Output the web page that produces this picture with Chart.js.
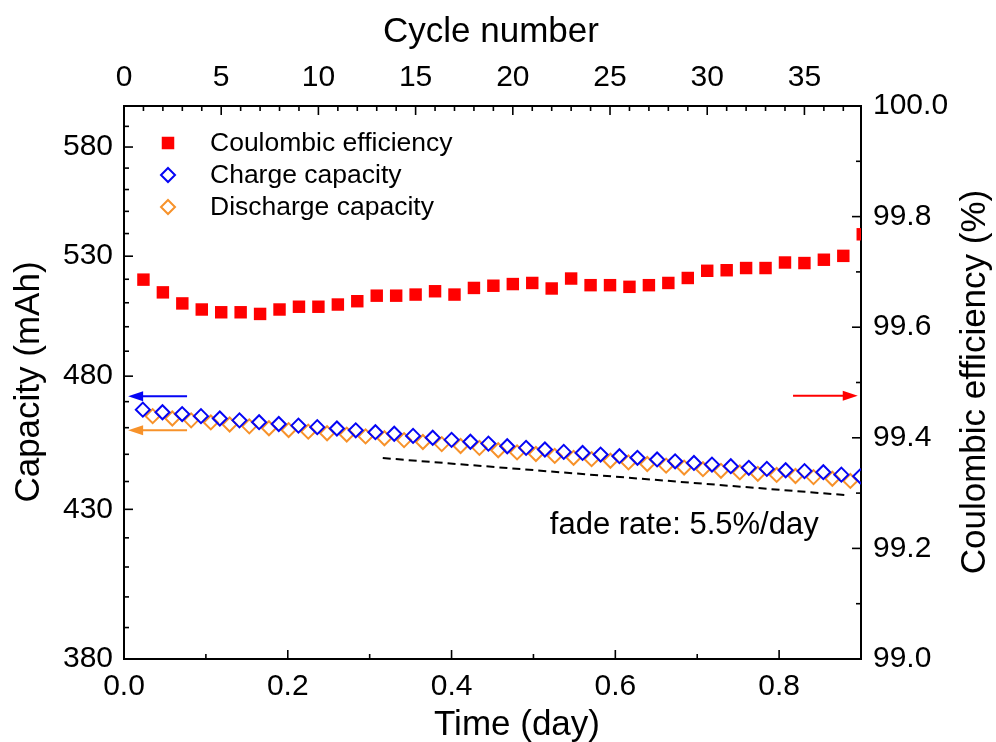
<!DOCTYPE html>
<html><head><meta charset="utf-8">
<script src="https://cdn.jsdelivr.net/npm/chart.js@4.4.0/dist/chart.umd.min.js"></script>
<style>html,body{margin:0;padding:0;background:#fff;}canvas{display:block;}</style>
</head><body>
<canvas id="c" width="996" height="742"></canvas>
<script>
// ---------- data ----------
const cycles = [1,2,3,4,5,6,7,8,9,10,11,12,13,14,15,16,17,18,19,20,21,22,23,24,25,26,27,28,29,30,31,32,33,34,35,36,37,38];
const coulombicEfficiency = [99.686,99.663,99.643,99.632,99.627,99.627,99.624,99.632,99.637,99.637,99.641,99.647,99.657,99.657,99.659,99.665,99.659,99.671,99.675,99.678,99.680,99.670,99.688,99.676,99.676,99.673,99.676,99.680,99.689,99.702,99.703,99.707,99.707,99.717,99.716,99.722,99.729,99.768];
const chargeTime = [0.023,0.047,0.071,0.094,0.117,0.141,0.165,0.189,0.213,0.236,0.260,0.283,0.307,0.330,0.353,0.377,0.400,0.423,0.445,0.468,0.491,0.514,0.537,0.560,0.582,0.605,0.627,0.651,0.673,0.696,0.718,0.741,0.763,0.785,0.808,0.831,0.854,0.876,0.899];
const chargeCapacity = [466.9,465.9,465.2,464.4,463.5,462.8,462.1,461.4,460.8,460.2,459.7,459.0,458.3,457.7,456.9,456.2,455.4,454.7,454.0,453.0,452.4,451.8,450.9,450.5,449.9,449.3,448.7,448.1,447.4,446.8,446.2,445.6,445.0,444.6,444.1,443.8,443.4,442.5,441.9];
const dischargeTime = [0.035,0.059,0.082,0.106,0.129,0.153,0.177,0.201,0.225,0.248,0.272,0.295,0.318,0.342,0.365,0.388,0.411,0.434,0.457,0.480,0.503,0.526,0.549,0.571,0.594,0.616,0.639,0.662,0.684,0.707,0.729,0.752,0.774,0.797,0.820,0.842,0.865,0.887];
const dischargeCapacity = [464.4,463.5,462.8,462.0,461.2,460.5,459.8,459.1,458.5,457.9,457.4,456.7,456.0,455.3,454.6,453.8,453.1,452.4,451.5,450.7,450.1,449.4,448.7,448.2,447.6,447.0,446.4,445.8,445.1,444.5,443.9,443.3,442.8,442.4,442.0,441.6,441.0,440.2];
const fadeLineTime = [0.316, 0.881];
const fadeLineCapacity = [448.6, 435.1];

// ---------- ticks ----------
const timeTicks = [0.0, 0.2, 0.4, 0.6, 0.8];
const timeMinorTicks = [0.1, 0.3, 0.5, 0.7];
const cycleTicks = [0, 5, 10, 15, 20, 25, 30, 35];
const cycleMinorTicks = [1,2,3,4,6,7,8,9,11,12,13,14,16,17,18,19,21,22,23,24,26,27,28,29,31,32,33,34,36,37];
const capacityTicks = [380, 430, 480, 530, 580];
const capacityMinorTicks = [390,400,410,420,440,450,460,470,490,500,510,520,540,550,560,570,590];
const ceTicks = [99.0, 99.2, 99.4, 99.6, 99.8, 100.0];
const ceMinorTicks = [99.1, 99.3, 99.5, 99.7, 99.9];

// ---------- labels ----------
const seriesNames = ['Coulombic efficiency', 'Charge capacity', 'Discharge capacity'];
const fadeLabel = 'fade rate: 5.5%/day';

// ---------- styles ----------
const RED = '#ff0000', BLUE = '#0505f5', ORANGE = '#f7922a';
const FONT = "'Liberation Sans', Arial, sans-serif";

const axisArrows = [
  {from: 0.077, to: 0.005, value: 472.1, xId: 'x', yId: 'y', color: BLUE},
  {from: 0.077, to: 0.005, value: 459.0, xId: 'x', yId: 'y', color: ORANGE},
  {from: 0.817, to: 0.896, value: 99.476, xId: 'x', yId: 'y2', color: RED}
];
const fadeLabelPos = {time: 0.520, capacity: 421.3};

Chart.defaults.font.family = FONT;
Chart.defaults.color = '#000';

function fix(size, prop) { return function(scale){ scale[prop] = size; }; }
function setTicks(vals){ return function(scale){ scale.ticks = vals.map(v => ({value: v})); }; }

const customDraw = {
  id: 'customDraw',
  afterDraw(chart) {
    const ctx = chart.ctx, a = chart.chartArea, s = chart.scales;
    ctx.save();
    ctx.strokeStyle = '#000';
    ctx.lineWidth = 1.6;
    const MAJ = 9, MIN = 5;
    function vTicks(scale, vals, len, side) {
      vals.forEach(v => {
        const y = scale.getPixelForValue(v);
        ctx.beginPath();
        if (side === 'left') { ctx.moveTo(a.left, y); ctx.lineTo(a.left + len, y); }
        else { ctx.moveTo(a.right, y); ctx.lineTo(a.right - len, y); }
        ctx.stroke();
      });
    }
    function hTicks(scale, vals, len, side) {
      vals.forEach(v => {
        const x = scale.getPixelForValue(v);
        ctx.beginPath();
        if (side === 'bottom') { ctx.moveTo(x, a.bottom); ctx.lineTo(x, a.bottom - len); }
        else { ctx.moveTo(x, a.top); ctx.lineTo(x, a.top + len); }
        ctx.stroke();
      });
    }
    vTicks(s.y, capacityTicks, MAJ, 'left');
    vTicks(s.y, capacityMinorTicks, MIN, 'left');
    vTicks(s.y2, ceTicks, MAJ, 'right');
    vTicks(s.y2, ceMinorTicks, MIN, 'right');
    hTicks(s.x, timeTicks, MAJ, 'bottom');
    hTicks(s.x, timeMinorTicks, MIN, 'bottom');
    hTicks(s.x2, cycleTicks, MAJ, 'top');
    hTicks(s.x2, cycleMinorTicks, MIN, 'top');

    // arrows
    axisArrows.forEach(ar => {
      const x0 = s[ar.xId].getPixelForValue(ar.from);
      const x1 = s[ar.xId].getPixelForValue(ar.to);
      const y = s[ar.yId].getPixelForValue(ar.value);
      const dir = Math.sign(x1 - x0);
      ctx.strokeStyle = ar.color; ctx.fillStyle = ar.color; ctx.lineWidth = 2;
      ctx.beginPath(); ctx.moveTo(x0, y); ctx.lineTo(x1 - dir * 10, y); ctx.stroke();
      ctx.beginPath(); ctx.moveTo(x1, y); ctx.lineTo(x1 - dir * 15, y - 5); ctx.lineTo(x1 - dir * 15, y + 5); ctx.closePath(); ctx.fill();
    });

    // fade label
    ctx.fillStyle = '#000';
    ctx.font = '31px ' + FONT;
    ctx.textAlign = 'left'; ctx.textBaseline = 'alphabetic';
    ctx.fillText(fadeLabel, s.x.getPixelForValue(fadeLabelPos.time), s.y.getPixelForValue(fadeLabelPos.capacity));

    // legend
    const lx = a.left + 44, tx = a.left + 86;
    const rows = [a.top + 37, a.top + 69, a.top + 101];
    ctx.font = '26.5px ' + FONT;
    ctx.textBaseline = 'middle';
    ctx.fillStyle = RED; ctx.fillRect(lx - 6.25, rows[0] - 6.25, 12.5, 12.5);
    [[BLUE, rows[1]], [ORANGE, rows[2]]].forEach(([c, y]) => {
      ctx.strokeStyle = c; ctx.lineWidth = 2;
      ctx.beginPath(); ctx.moveTo(lx, y - 7); ctx.lineTo(lx + 7, y); ctx.lineTo(lx, y + 7); ctx.lineTo(lx - 7, y); ctx.closePath(); ctx.stroke();
    });
    ctx.fillStyle = '#000';
    seriesNames.forEach((n, i) => ctx.fillText(n, tx, rows[i] + 1));

    // axis titles
    ctx.font = '35px ' + FONT;
    ctx.textAlign = 'center'; ctx.textBaseline = 'alphabetic';
    ctx.fillText('Cycle number', 491, 42);
    ctx.fillText('Time (day)', 517, 735);
    ctx.save(); ctx.translate(39, 382); ctx.rotate(-Math.PI / 2); ctx.fillText('Capacity (mAh)', 0, 0); ctx.restore();
    ctx.save(); ctx.translate(985, 382); ctx.rotate(-Math.PI / 2); ctx.fillText('Coulombic efficiency (%)', 0, 0); ctx.restore();
    ctx.restore();
  }
};

const tickFont = {size: 30, family: FONT};
const gridOff = {display: false, drawTicks: false, drawOnChartArea: false};
const border = {display: true, color: '#000', width: 2};

new Chart(document.getElementById('c'), {
  type: 'scatter',
  data: {
    datasets: [
      {label: seriesNames[0], data: cycles.map((c, i) => ({x: c, y: coulombicEfficiency[i]})),
       xAxisID: 'x2', yAxisID: 'y2', pointStyle: 'rect', pointRadius: 8.8, pointHoverRadius: 8.8,
       backgroundColor: RED, borderColor: RED, borderWidth: 0, clip: 0},
      {label: seriesNames[1], data: chargeTime.map((t, i) => ({x: t, y: chargeCapacity[i]})),
       xAxisID: 'x', yAxisID: 'y', pointStyle: 'rectRot', pointRadius: 7, pointHoverRadius: 7,
       backgroundColor: 'rgba(0,0,0,0)', borderColor: BLUE, borderWidth: 2, clip: 0},
      {label: seriesNames[2], data: dischargeTime.map((t, i) => ({x: t, y: dischargeCapacity[i]})),
       xAxisID: 'x', yAxisID: 'y', pointStyle: 'rectRot', pointRadius: 7, pointHoverRadius: 7,
       backgroundColor: 'rgba(0,0,0,0)', borderColor: ORANGE, borderWidth: 2, clip: 0},
      {label: 'fade', data: fadeLineTime.map((t, i) => ({x: t, y: fadeLineCapacity[i]})),
       xAxisID: 'x', yAxisID: 'y', showLine: true, pointRadius: 0, borderColor: '#000',
       borderWidth: 2, borderDash: [8, 5], clip: 0}
    ]
  },
  options: {
    responsive: false, animation: false, devicePixelRatio: 1,
    layout: {padding: 0},
    plugins: {legend: {display: false}, tooltip: {enabled: false}},
    events: [],
    scales: {
      x: {type: 'linear', position: 'bottom', min: 0, max: 0.9,
          afterBuildTicks: setTicks(timeTicks), afterFit: fix(83, 'height'),
          grid: gridOff, border: border,
          ticks: {font: tickFont, padding: 10, maxRotation: 0, autoSkip: false, callback: v => v.toFixed(1)}},
      x2: {type: 'linear', position: 'top', min: 0, max: 37.91,
          afterBuildTicks: setTicks(cycleTicks), afterFit: fix(106, 'height'),
          grid: gridOff, border: border,
          ticks: {font: tickFont, padding: 10, maxRotation: 0, autoSkip: false, callback: v => String(v)}},
      y: {type: 'logarithmic', position: 'left', min: 380, max: 600,
          afterBuildTicks: setTicks(capacityTicks), afterFit: fix(124, 'width'),
          grid: gridOff, border: border,
          ticks: {font: tickFont, padding: 11, autoSkip: false, callback: v => String(v)}},
      y2: {type: 'linear', position: 'right', min: 99, max: 100,
          afterBuildTicks: setTicks(ceTicks), afterFit: fix(135, 'width'),
          grid: gridOff, border: border,
          ticks: {font: tickFont, padding: 12, autoSkip: false, callback: v => v.toFixed(1)}}
    }
  },
  plugins: [customDraw]
});
</script>
</body></html>
